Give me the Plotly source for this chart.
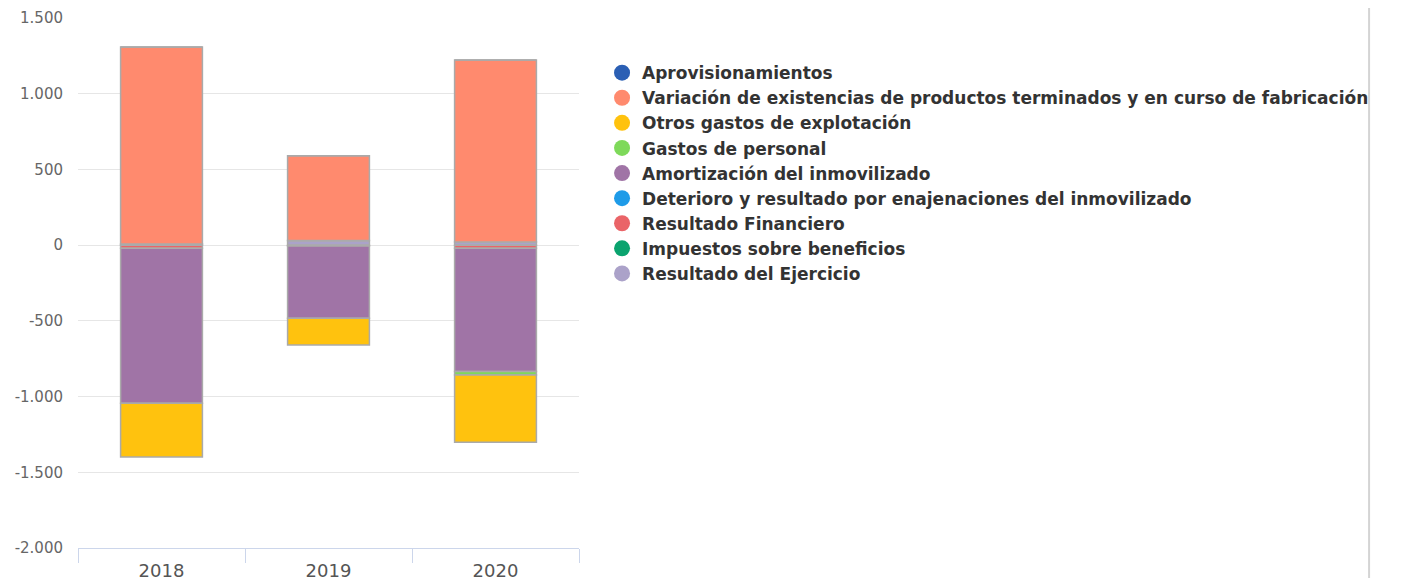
import plotly.graph_objects as go

# Años y series (miles de euros, aprox.)
years = ["2018", "2019", "2020"]

series_names = [
    "Aprovisionamientos",
    "Variación de existencias de productos terminados y en curso de fabricación",
    "Otros gastos de explotación",
    "Gastos de personal",
    "Amortización del inmovilizado",
    "Deterioro y resultado por enajenaciones del inmovilizado",
    "Resultado Financiero",
    "Impuestos sobre beneficios",
    "Resultado del Ejercicio",
]
series_colors = [
    "#2b5fb4", "#ff8a6e", "#ffc20e", "#7ed95a", "#a074a6",
    "#1e9be8", "#ea6468", "#0aa36e", "#aba2c9",
]

aprovisionamientos = [0, 0, 0]
variacion_existencias = [1301, 561, 1203]
otros_gastos = [-355, -176, -445]
gastos_personal = [0, 0, -22]
amortizacion = [-1024, -478, -815]
deterioro = [0, 0, 0]
resultado_financiero = [-20, -5, -20]
impuestos = [0, 0, 0]
resultado_ejercicio = [8, 30, 20]

series_values = [
    aprovisionamientos, variacion_existencias, otros_gastos, gastos_personal,
    amortizacion, deterioro, resultado_financiero, impuestos, resultado_ejercicio,
]

ytick_vals = [1500, 1000, 500, 0, -500, -1000, -1500, -2000]
ytick_text = ["1.500", "1.000", "500", "0", "-500", "-1.000", "-1.500", "-2.000"]

fig = go.Figure()

# bars added in reverse so the first series ends up furthest from zero
for i in reversed(range(len(series_names))):
    fig.add_trace(go.Bar(
        x=years, y=series_values[i], name=series_names[i],
        marker=dict(color=series_colors[i], line=dict(color="#aaaaaa", width=1.5)),
        width=0.49, showlegend=False,
    ))

# legend entries with round markers
for i, name in enumerate(series_names):
    fig.add_trace(go.Scatter(
        x=[None], y=[None], mode="markers", name=name,
        marker=dict(color=series_colors[i], size=18, symbol="circle"),
        legendrank=i + 1, legendgroup=f"g{i}",
    ))

# page body has an 8px margin, so margins are shifted by -8
fig.update_layout(
    width=1406, height=578,
    barmode="relative",
    separators=",.",
    plot_bgcolor="white", paper_bgcolor="white",
    margin=dict(l=70, r=835, t=10, b=38),
    legend=dict(
        x=1.046, y=0.93, xanchor="left", yanchor="top",
        font=dict(family="DejaVu Sans", size=17, color="#333333", weight="bold"),
        itemsizing="trace", traceorder="grouped", tracegroupgap=0,
        bgcolor="rgba(0,0,0,0)",
    ),
    shapes=[dict(
        type="line", xref="paper", yref="paper",
        x0=2.577, x1=2.577, y0=-0.08, y1=1.04,
        line=dict(color="#d4d4d4", width=2),
    )],
)

fig.update_yaxes(
    range=[-2000, 1500], tickvals=ytick_vals, ticktext=ytick_text,
    showgrid=True, gridcolor="#e6e6e6", gridwidth=1,
    zeroline=False, showline=False, automargin=False,
    tickfont=dict(family="DejaVu Sans", size=15, color="#666666"),
    ticklabelstandoff=14,
)
fig.update_xaxes(
    range=[-0.5, 2.5], showline=True, linecolor="#ccd6eb", linewidth=1,
    ticks="outside", tickson="boundaries", ticklen=14, tickcolor="#ccd6eb",
    tickfont=dict(family="DejaVu Sans", size=18, color="#555555"),
    showgrid=False, automargin=False, ticklabelstandoff=6,
)

fig.write_html("out.html")
